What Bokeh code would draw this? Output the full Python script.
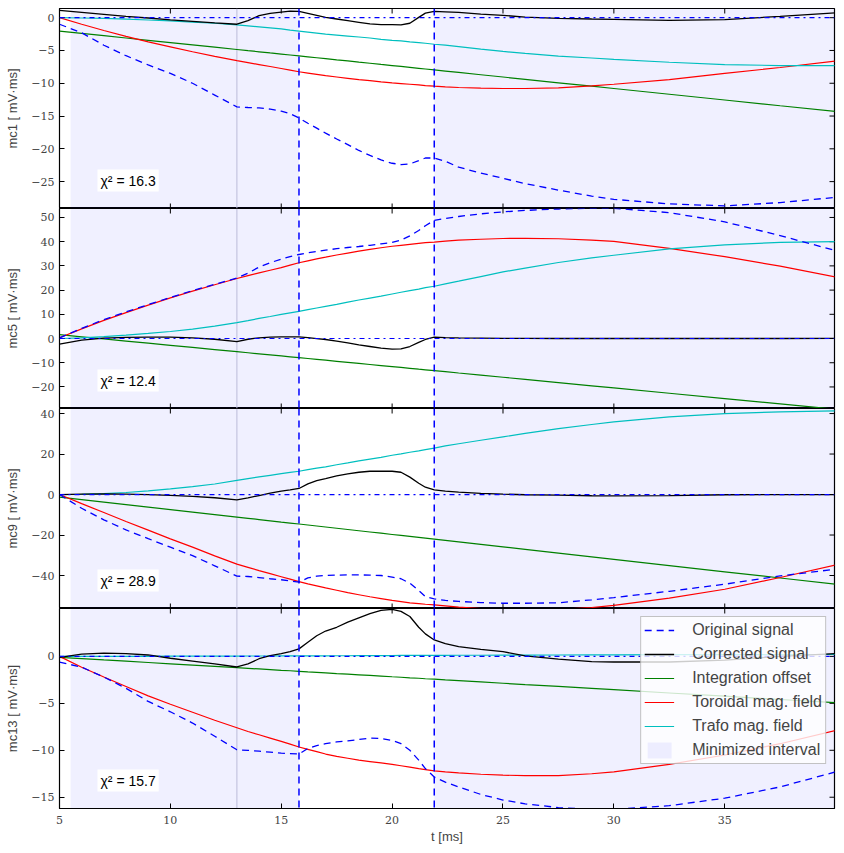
from bokeh.plotting import figure
from bokeh.layouts import column
from bokeh.models import (Range1d, FixedTicker, Span, Label,
                          Legend, LegendItem, ColumnDataSource)
from bokeh.embed import file_html
from bokeh.resources import INLINE

# ---------------- data ----------------
T = [5, 6, 7, 8, 9, 10, 11, 12, 13, 13.5, 14, 14.5, 15, 15.4, 15.8, 16.2, 16.6,
     17, 17.5, 18, 18.5, 19, 19.5, 20, 20.4, 20.8, 21.2, 21.5, 21.9, 22.4, 23,
     24, 25, 26, 27.5, 29, 30, 32.5, 35, 37.5, 40]

CHANNELS = ["mc1", "mc5", "mc9", "mc13"]
CHI2 = [16.3, 12.4, 28.9, 15.7]

# mc1
ORIG1 = [-1.0, -2.3, -4.2, -5.8, -7.2, -8.5, -10.0, -11.8, -13.6, -13.7, -13.75, -13.95, -14.25, -14.65, -15.3, -16.1, -16.85, -17.6, -18.5, -19.35, -20.25, -21.0, -21.7, -22.2, -22.4, -22.3, -21.8, -21.4, -21.4, -21.9, -22.8, -23.7, -24.5, -25.3, -26.3, -27.2, -27.7, -28.4, -28.7, -28.2, -27.4]
CORR1 = [1.1, 0.8, 0.5, 0.2, -0.05, -0.33, -0.55, -0.78, -1.0, -0.45, 0.3, 0.65, 0.85, 1.0, 0.95, 0.65, 0.35, 0.05, -0.2, -0.45, -0.7, -0.95, -1.05, -1.05, -1.1, -0.85, 0.05, 0.7, 0.95, 0.9, 0.8, 0.55, 0.35, 0.1, -0.1, -0.2, -0.25, -0.4, -0.3, 0.2, 0.75]
OFFS1 = [-2.05, -2.4, -2.75, -3.1, -3.45, -3.8, -4.15, -4.5, -4.85, -5.03, -5.2, -5.38, -5.55, -5.69, -5.83, -5.97, -6.11, -6.25, -6.43, -6.6, -6.78, -6.95, -7.13, -7.3, -7.44, -7.58, -7.72, -7.83, -7.97, -8.14, -8.35, -8.7, -9.05, -9.4, -9.93, -10.45, -10.8, -11.68, -12.55, -13.43, -14.3]
TOR1 = [0.0, -1.0, -1.95, -2.85, -3.7, -4.45, -5.2, -5.9, -6.55, -6.85, -7.15, -7.45, -7.75, -8.0, -8.25, -8.45, -8.65, -8.85, -9.05, -9.25, -9.45, -9.6, -9.8, -9.95, -10.05, -10.15, -10.25, -10.35, -10.45, -10.55, -10.65, -10.75, -10.8, -10.8, -10.7, -10.4, -10.15, -9.45, -8.5, -7.6, -6.6]
TRAFO1 = [0.0, -0.05, -0.12, -0.22, -0.35, -0.5, -0.67, -0.85, -1.1, -1.25, -1.4, -1.55, -1.72, -1.9, -2.05, -2.2, -2.35, -2.5, -2.65, -2.8, -2.95, -3.1, -3.3, -3.45, -3.55, -3.7, -3.8, -3.9, -4.05, -4.2, -4.4, -4.8, -5.15, -5.45, -5.85, -6.15, -6.35, -6.8, -7.15, -7.3, -7.3]

# mc5
ORIG2 = [0.3, 4.2, 7.8, 11.0, 14.0, 17.0, 19.8, 22.4, 25.0, 27.0, 29.5, 31.3, 32.8, 33.8, 34.7, 35.4, 36.0, 36.5, 37.1, 37.6, 38.0, 38.5, 39.1, 39.7, 40.6, 42.4, 44.6, 46.6, 48.8, 49.6, 50.4, 51.5, 52.3, 52.9, 53.5, 53.8, 53.8, 52.0, 48.2, 42.5, 36.3]
CORR2 = [-2.3, -0.7, 0.2, 0.5, 0.6, 0.6, 0.3, -0.3, -1.3, -0.3, 0.3, 0.55, 0.7, 0.7, 0.7, 0.4, 0.0, -0.4, -1.1, -1.8, -2.6, -3.3, -4.0, -4.4, -4.3, -3.3, -1.6, -0.4, 0.55, 0.4, 0.3, 0.2, 0.1, 0.05, 0.0, 0.0, 0.0, 0.0, 0.0, 0.0, 0.1]
OFFS2 = [1.6, 0.72, -0.16, -1.04, -1.92, -2.8, -3.68, -4.56, -5.44, -5.88, -6.32, -6.76, -7.2, -7.55, -7.9, -8.26, -8.61, -8.96, -9.4, -9.84, -10.28, -10.72, -11.16, -11.6, -11.95, -12.3, -12.66, -12.92, -13.27, -13.71, -14.24, -15.12, -16.0, -16.88, -18.2, -19.52, -20.4, -22.6, -24.8, -27.0, -29.2]
TOR2 = [0.3, 4.0, 7.5, 10.7, 13.8, 16.8, 19.6, 22.2, 24.8, 26.0, 27.1, 28.2, 29.3, 30.3, 31.3, 32.1, 32.9, 33.6, 34.5, 35.3, 36.1, 36.8, 37.5, 38.1, 38.5, 38.9, 39.3, 39.6, 39.8, 40.2, 40.6, 41.0, 41.3, 41.4, 41.2, 40.6, 40.1, 37.2, 33.8, 29.9, 25.4]
TRAFO2 = [0.0, 0.3, 0.8, 1.4, 2.1, 2.9, 3.9, 5.1, 6.6, 7.4, 8.3, 9.1, 10.0, 10.6, 11.2, 11.9, 12.6, 13.3, 14.1, 15.0, 15.9, 16.7, 17.5, 18.4, 19.1, 19.8, 20.4, 21.0, 21.6, 22.6, 23.7, 25.6, 27.5, 29.1, 31.4, 33.3, 34.4, 37.0, 38.7, 39.7, 40.0]

# mc9
ORIG3 = [0.0, -6.8, -12.5, -17.5, -21.8, -26.0, -30.2, -35.2, -40.3, -40.5, -41.0, -41.6, -42.1, -42.7, -43.3, -41.2, -40.3, -40.0, -39.8, -39.7, -39.7, -39.8, -40.0, -40.8, -41.6, -43.8, -47.4, -50.4, -51.5, -52.3, -52.8, -53.4, -53.7, -53.7, -53.5, -52.0, -50.9, -47.8, -44.3, -40.2, -36.9]
CORR3 = [0.0, 0.2, 0.3, 0.2, 0.0, -0.4, -0.9, -1.6, -2.6, -1.65, -0.5, 0.65, 1.65, 2.3, 3.0, 5.3, 6.9, 7.9, 9.2, 10.2, 11.0, 11.5, 11.5, 11.5, 11.0, 8.6, 5.6, 3.6, 2.3, 1.65, 1.15, 0.6, 0.2, -0.1, -0.3, -0.6, -0.7, -0.5, -0.1, 0.0, 0.0]
OFFS3 = [-1.3, -2.53, -3.76, -4.99, -6.21, -7.44, -8.67, -9.9, -11.13, -11.74, -12.36, -12.97, -13.59, -14.08, -14.57, -15.06, -15.55, -16.04, -16.66, -17.27, -17.89, -18.5, -19.11, -19.73, -20.22, -20.71, -21.2, -21.57, -22.06, -22.68, -23.41, -24.64, -25.87, -27.1, -28.94, -30.79, -32.01, -35.09, -38.16, -41.23, -44.3]
TOR3 = [0.0, -4.5, -8.9, -13.3, -17.6, -21.9, -26.0, -30.3, -34.4, -36.0, -37.6, -39.1, -40.6, -41.8, -43.0, -44.1, -45.1, -46.1, -47.3, -48.5, -49.5, -50.5, -51.4, -52.3, -52.9, -53.5, -53.9, -54.2, -54.5, -55.0, -55.6, -56.3, -56.8, -57.0, -56.8, -55.8, -54.8, -51.2, -46.8, -41.0, -34.8]
TRAFO3 = [0.0, 0.15, 0.45, 1.0, 1.8, 2.8, 3.9, 5.2, 7.0, 7.9, 8.7, 9.5, 10.3, 10.9, 11.5, 12.3, 13.0, 13.7, 14.7, 15.6, 16.6, 17.5, 18.4, 19.4, 20.1, 20.9, 21.6, 22.2, 22.9, 24.0, 25.1, 26.8, 28.5, 30.2, 32.6, 34.6, 35.9, 38.4, 40.0, 40.8, 41.3]

# mc13
ORIG4 = [-0.6, -1.15, -2.2, -3.4, -4.8, -5.9, -7.1, -8.5, -9.95, -10.0, -10.1, -10.2, -10.3, -10.35, -10.4, -9.8, -9.5, -9.3, -9.1, -9.0, -8.85, -8.7, -8.75, -8.95, -9.3, -10.0, -11.05, -11.95, -12.85, -13.4, -13.9, -14.7, -15.3, -15.7, -16.1, -16.3, -16.3, -15.9, -15.1, -13.9, -12.3]
CORR4 = [-0.1, 0.25, 0.35, 0.3, 0.15, -0.2, -0.5, -0.8, -1.13, -0.8, -0.25, 0.07, 0.3, 0.5, 0.8, 1.5, 2.2, 2.7, 3.1, 3.65, 4.1, 4.55, 4.9, 5.0, 4.8, 4.25, 3.1, 2.4, 1.75, 1.35, 1.05, 0.75, 0.5, 0.05, -0.3, -0.55, -0.6, -0.6, -0.4, 0.0, 0.3]
OFFS4 = [-0.1, -0.24, -0.38, -0.51, -0.65, -0.79, -0.93, -1.07, -1.2, -1.27, -1.34, -1.41, -1.48, -1.53, -1.59, -1.65, -1.7, -1.76, -1.83, -1.89, -1.96, -2.03, -2.1, -2.17, -2.22, -2.28, -2.33, -2.38, -2.43, -2.5, -2.58, -2.72, -2.86, -3.0, -3.2, -3.41, -3.55, -3.9, -4.24, -4.59, -4.93]
TOR4 = [0.0, -1.15, -2.2, -3.2, -4.2, -5.1, -5.95, -6.8, -7.6, -8.0, -8.35, -8.7, -9.05, -9.35, -9.65, -9.9, -10.15, -10.4, -10.65, -10.85, -11.05, -11.2, -11.35, -11.5, -11.65, -11.8, -11.95, -12.05, -12.2, -12.3, -12.4, -12.55, -12.65, -12.7, -12.7, -12.5, -12.3, -11.5, -10.5, -9.3, -7.9]
TRAFO4 = [0.0, 0.0, 0.0, 0.01, 0.01, 0.02, 0.02, 0.03, 0.03, 0.04, 0.04, 0.04, 0.05, 0.05, 0.05, 0.06, 0.06, 0.06, 0.07, 0.07, 0.08, 0.08, 0.09, 0.09, 0.1, 0.1, 0.1, 0.1, 0.11, 0.11, 0.12, 0.12, 0.13, 0.14, 0.15, 0.16, 0.16, 0.18, 0.19, 0.2, 0.2]

ORIG = [ORIG1, ORIG2, ORIG3, ORIG4]
CORR = [CORR1, CORR2, CORR3, CORR4]
OFFS = [OFFS1, OFFS2, OFFS3, OFFS4]
TOR = [TOR1, TOR2, TOR3, TOR4]
TRAFO = [TRAFO1, TRAFO2, TRAFO3, TRAFO4]

YLIM = [(-29.1, 1.4), (-28.9, 53.7), (-56.3, 42.5), (-16.2, 5.1)]
YTICKS = [[-25, -20, -15, -10, -5, 0],
          [-20, -10, 0, 10, 20, 30, 40, 50],
          [-40, -20, 0, 20, 40],
          [-15, -10, -5, 0]]
XTICKS = [5, 10, 15, 20, 25, 30, 35]
XLIM = (5, 39.95)

MIN_LEFT = [5.5, 21.9]      # minimized interval(s)
MIN_RIGHT = [15.8, 39.95]
CUTS = [15.8, 21.9]         # excluded-interval boundaries
MARK = 13.0

LABELS = ["Original signal", "Corrected signal", "Integration offset",
          "Toroidal mag. field", "Trafo mag. field", "Minimized interval"]

# ---------------- styling ----------------
TICK_FONT = "DejaVu Serif"
SANS = "Liberation Sans"
TICK_LEN = 5


def fmt(v):
    return ("\u2212" + str(abs(v))) if v < 0 else str(v)


def style_axis(ax, ticks, standoff):
    ax.ticker = FixedTicker(ticks=ticks)
    ax.major_tick_in = TICK_LEN
    ax.major_tick_out = 0
    ax.minor_tick_in = 0
    ax.minor_tick_out = 0
    ax.major_tick_line_color = "black"
    ax.axis_line_color = "black"
    ax.major_label_overrides = {v: fmt(v) for v in ticks}
    ax.major_label_text_font = TICK_FONT
    ax.major_label_text_font_size = "11px"
    ax.major_label_standoff = standoff


xr = Range1d(*XLIM)
figs = []
for i in range(4):
    first = (i == 0)
    last = (i == 3)
    lo, hi = YLIM[i]
    p = figure(frame_width=775, frame_height=200, x_range=xr,
               y_range=Range1d(lo, hi), output_backend="svg",
               toolbar_location=None, min_border_left=59,
               min_border_right=8, min_border_top=8 if first else 0,
               min_border_bottom=0,
               x_axis_location="below" if last else None)
    p.grid.visible = False
    p.outline_line_color = "black"
    p.outline_line_width = 1.2
    p.background_fill_color = "white"

    # axes
    style_axis(p.yaxis[0], YTICKS[i], 5)
    p.yaxis[0].axis_label = f"{CHANNELS[i]} [ mV\u00b7ms]"
    p.yaxis[0].axis_label_text_font = SANS
    p.yaxis[0].axis_label_text_font_style = "normal"
    p.yaxis[0].axis_label_text_font_size = "13px"
    p.yaxis[0].axis_label_standoff = 8
    if last:
        style_axis(p.xaxis[0], XTICKS, 7)
        p.xaxis[0].axis_label = "t [ms]"
        p.xaxis[0].axis_label_text_font = SANS
        p.xaxis[0].axis_label_text_font_style = "normal"
        p.xaxis[0].axis_label_text_font_size = "13px"
        p.xaxis[0].axis_label_standoff = 2

    # shaded minimized interval
    qsrc = ColumnDataSource(dict(left=MIN_LEFT, right=MIN_RIGHT,
                                 bottom=[lo] * len(MIN_LEFT),
                                 top=[hi] * len(MIN_LEFT)))
    rq = p.quad(left="left", right="right", bottom="bottom", top="top",
                source=qsrc, fill_color="#0000ff", fill_alpha=0.06,
                line_color=None)
    p.add_layout(Span(location=MARK, dimension="height", line_color="#c8c8d8",
                      line_width=1, level="underlay"))

    # inward tick marks on the top, right (and bottom for upper panels)
    p.ray(x=XTICKS, y=[hi] * len(XTICKS), length=TICK_LEN, length_units="screen",
          angle=-90, angle_units="deg", line_color="black", line_width=1)
    if not last:
        p.ray(x=XTICKS, y=[lo] * len(XTICKS), length=TICK_LEN,
              length_units="screen", angle=90, angle_units="deg",
              line_color="black", line_width=1)
    p.ray(x=[XLIM[1]] * len(YTICKS[i]), y=YTICKS[i], length=TICK_LEN,
          length_units="screen", angle=180, angle_units="deg",
          line_color="black", line_width=1)

    src = ColumnDataSource(dict(t=T, orig=ORIG[i], corr=CORR[i], offs=OFFS[i],
                                tor=TOR[i], trafo=TRAFO[i]))
    r_off = p.line("t", "offs", source=src, color="#008000", line_width=1.2)
    r_tor = p.line("t", "tor", source=src, color="#ff0000", line_width=1.2)
    r_tra = p.line("t", "trafo", source=src, color="#00bfbf", line_width=1.2)
    r_cor = p.line("t", "corr", source=src, color="black", line_width=1.3)
    r_org = p.line("t", "orig", source=src, color="#0000ff", line_width=1.3,
                   line_dash="7 5")

    p.add_layout(Span(location=0, dimension="width", line_color="#0000ff",
                      line_width=1.2, line_dash="5 4 2 4"))
    for c in CUTS:
        p.add_layout(Span(location=c, dimension="height", line_color="#0000ff",
                          line_width=1.5, line_dash="7 5"))

    p.add_layout(Label(x=38, y=17, x_units="screen", y_units="screen",
                       text=f"\u03c7\u00b2 = {CHI2[i]}", text_font=SANS,
                       text_font_size="14px", text_color="black",
                       background_fill_color="white", padding=3))

    if last:
        items = [LegendItem(label=LABELS[0], renderers=[r_org]),
                 LegendItem(label=LABELS[1], renderers=[r_cor]),
                 LegendItem(label=LABELS[2], renderers=[r_off]),
                 LegendItem(label=LABELS[3], renderers=[r_tor]),
                 LegendItem(label=LABELS[4], renderers=[r_tra]),
                 LegendItem(label=LABELS[5], renderers=[rq])]
        leg = Legend(items=items, location="top_right",
                     label_text_font=SANS, label_text_font_size="16px",
                     glyph_width=30, glyph_height=20, label_height=20,
                     label_standoff=18, spacing=4, padding=3, margin=8,
                     background_fill_alpha=0.8,
                     border_line_color="#888888", border_line_width=1)
        p.add_layout(leg)
    figs.append(p)

layout = column(*figs, spacing=0)
open("out.html", "w").write(file_html(layout, INLINE))
